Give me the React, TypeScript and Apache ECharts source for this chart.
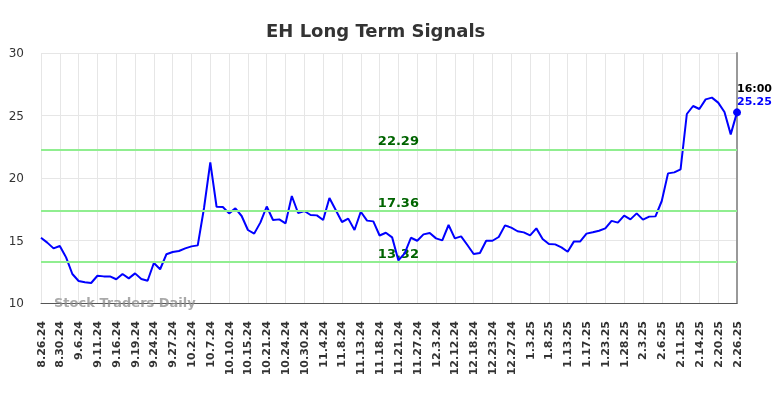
import React, { useEffect, useRef } from "react";
import * as echarts from "echarts";

const dates: string[] = [
  "8.26.24", "8.27.24", "8.28.24",
  "8.30.24", "9.3.24", "9.4.24",
  "9.6.24", "9.9.24", "9.10.24",
  "9.11.24", "9.12.24", "9.13.24",
  "9.16.24", "9.17.24", "9.18.24",
  "9.19.24", "9.20.24", "9.23.24",
  "9.24.24", "9.25.24", "9.26.24",
  "9.27.24", "9.30.24", "10.1.24",
  "10.2.24", "10.3.24", "10.4.24",
  "10.7.24", "10.8.24", "10.9.24",
  "10.10.24", "10.11.24", "10.14.24",
  "10.15.24", "10.16.24", "10.18.24",
  "10.21.24", "10.22.24", "10.23.24",
  "10.24.24", "10.25.24", "10.28.24",
  "10.30.24", "10.31.24", "11.1.24",
  "11.4.24", "11.5.24", "11.6.24",
  "11.8.24", "11.11.24", "11.12.24",
  "11.13.24", "11.14.24", "11.15.24",
  "11.18.24", "11.19.24", "11.20.24",
  "11.21.24", "11.22.24", "11.25.24",
  "11.27.24", "11.29.24", "12.2.24",
  "12.3.24", "12.5.24", "12.9.24",
  "12.12.24", "12.13.24", "12.16.24",
  "12.18.24", "12.19.24", "12.20.24",
  "12.23.24", "12.24.24", "12.26.24",
  "12.27.24", "12.30.24", "12.31.24",
  "1.3.25", "1.6.25", "1.7.25",
  "1.8.25", "1.9.25", "1.10.25",
  "1.13.25", "1.14.25", "1.16.25",
  "1.17.25", "1.21.25", "1.22.25",
  "1.23.25", "1.24.25", "1.27.25",
  "1.28.25", "1.29.25", "1.31.25",
  "2.3.25", "2.4.25", "2.5.25",
  "2.6.25", "2.7.25", "2.10.25",
  "2.11.25", "2.12.25", "2.13.25",
  "2.14.25", "2.18.25", "2.19.25",
  "2.20.25", "2.21.25", "2.24.25",
  "2.26.25",
];

const values: number[] = [
  15.22, 14.83, 14.37, 14.56, 13.65, 12.32, 11.76, 11.66, 11.6, 12.18, 12.13, 12.13, 11.9, 12.32, 11.97, 12.37, 11.92, 11.78,
  13.2, 12.7, 13.9, 14.08, 14.16, 14.37, 14.53, 14.61, 17.6, 21.25, 17.7, 17.68, 17.17, 17.57, 16.96, 15.84, 15.55, 16.45, 17.72,
  16.64, 16.69, 16.37, 18.56, 17.2, 17.36, 17.04, 17.01, 16.64, 18.4, 17.44, 16.48, 16.75, 15.84, 17.3, 16.59, 16.53,
  15.4, 15.62, 15.25, 13.41, 13.97, 15.22, 14.98, 15.49, 15.6, 15.17, 15.01, 16.24, 15.17, 15.33, 14.64, 13.92, 14.0, 14.98, 14.98,
  15.28, 16.21, 16.03, 15.74, 15.65, 15.41, 15.97, 15.12, 14.72, 14.69, 14.45, 14.1, 14.93, 14.93, 15.55, 15.66, 15.78, 15.97,
  16.57, 16.43, 16.99, 16.69, 17.17, 16.67, 16.91, 16.93, 18.16, 20.37, 20.45, 20.69, 25.12, 25.76, 25.52, 26.29, 26.43, 26.03, 25.28, 23.49, 25.25,
];

const levels: number[] = [22.29, 17.36, 13.32];
const levelLabelIndex = 57;
const lastTime = "16:00";
const yMin = 10;
const yMax = 30;
const yInterval = 5;

export default function App() {
  const ref = useRef<HTMLDivElement>(null);
  useEffect(() => {
    if (!ref.current) return;
    const chart = echarts.init(ref.current, null, { renderer: "svg" });
    const last = values.length - 1;
    const font = "DejaVu Sans";
    chart.setOption({
      animation: false,
      title: {
        text: "EH Long Term Signals",
        left: 261,
        top: 16,
        textStyle: { fontFamily: font, fontSize: 18, fontWeight: "bold", color: "#333" },
      },
      grid: { left: 41, right: 47, top: 53, bottom: 95 },
      xAxis: {
        type: "category",
        data: dates,
        boundaryGap: false,
        axisLine: { lineStyle: { color: "#555", width: 1 } },
        axisTick: { show: false },
        axisLabel: {
          interval: 2,
          rotate: 90,
          margin: 18,
          fontFamily: font,
          fontSize: 11,
          fontWeight: "bold",
          color: "#333",
        },
        splitLine: { show: true, interval: 2, lineStyle: { color: "#e6e6e6" } },
      },
      yAxis: [
        {
          type: "value",
          min: yMin,
          max: yMax,
          interval: yInterval,
          axisLine: { show: false },
          axisTick: { show: false },
          axisLabel: { margin: 17, fontFamily: font, fontSize: 12, color: "#333" },
          splitLine: { lineStyle: { color: "#e6e6e6" } },
        },
        {
          type: "value",
          position: "right",
          min: yMin,
          max: yMax,
          interval: yInterval,
          axisLine: { show: true, lineStyle: { color: "#999", width: 2 } },
          axisTick: { show: false },
          axisLabel: { show: false },
          splitLine: { show: false },
        },
      ],
      graphic: [
        {
          type: "text",
          left: 54,
          top: 296,
          z: 100,
          style: {
            text: "Stock Traders Daily",
            fontFamily: font,
            fontSize: 13,
            fontWeight: "bold",
            fill: "rgba(140,140,140,0.75)",
          },
        },
      ],
      series: [
        {
          type: "scatter",
          z: 2,
          data: levels.map((v) => [levelLabelIndex, v]),
          symbolSize: 0,
          silent: true,
          itemStyle: { opacity: 1 },
          label: {
            show: true,
            position: "top",
            distance: 2,
            formatter: (p: any) => p.value[1].toFixed(2),
            fontFamily: font,
            fontSize: 13,
            fontWeight: "bold",
            color: "#006400",
          },
          markLine: {
            silent: true,
            symbol: "none",
            label: { show: false },
            lineStyle: { color: "#90ee90", width: 2, type: "solid", opacity: 1 },
            data: levels.map((v) => ({ yAxis: v })),
          },
        },
        {
          type: "line",
          z: 3,
          data: values,
          showSymbol: false,
          symbol: "none",
          lineStyle: { color: "#0000ff", width: 2 },
          itemStyle: { color: "#0000ff" },
        },
        {
          type: "scatter",
          z: 4,
          data: [[last, values[last]]],
          symbolSize: 8,
          itemStyle: { color: "#0000ff", opacity: 1 },
          label: {
            show: true,
            position: [4, -26],
            align: "left",
            verticalAlign: "top",
            formatter: () => `{t|${lastTime}}\n{v|${values[last].toFixed(2)}}`,
            rich: {
              t: { fontFamily: font, fontSize: 11, fontWeight: "bold", color: "#000", lineHeight: 13 },
              v: { fontFamily: font, fontSize: 11, fontWeight: "bold", color: "#0000ff", lineHeight: 13 },
            },
          },
        },
      ],
    });
    return () => chart.dispose();
  }, []);
  return (
    <div
      ref={ref}
      style={{ position: "fixed", left: 0, top: 0, width: 784, height: 398 }}
    />
  );
}
